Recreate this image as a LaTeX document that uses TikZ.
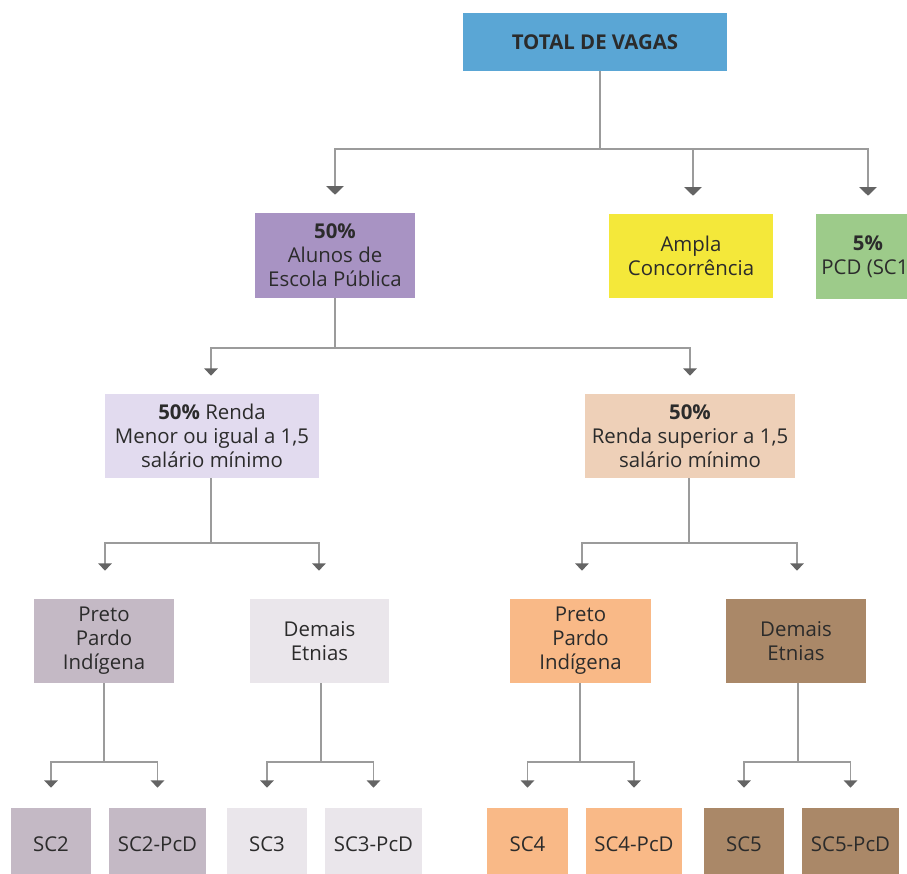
\documentclass[tikz,border=0pt]{standalone}
\usepackage{fontspec}
\setmainfont{Open Sans}
\usetikzlibrary{arrows.meta}
\definecolor{cBlue}{HTML}{5AA6D5}
\definecolor{cPurple}{HTML}{A893C3}
\definecolor{cYellow}{HTML}{F4E83A}
\definecolor{cGreen}{HTML}{9DCB8A}
\definecolor{cLav}{HTML}{E2DBEF}
\definecolor{cPeach}{HTML}{EED0B8}
\definecolor{cMauve}{HTML}{C4B9C5}
\definecolor{cLight}{HTML}{EAE6EB}
\definecolor{cOrange}{HTML}{F9B987}
\definecolor{cBrown}{HTML}{AA8868}
\definecolor{cText}{HTML}{2B2B2B}
\definecolor{cLine}{HTML}{9B9B9B}
\definecolor{cTip}{HTML}{646464}
\begin{document}
\begin{tikzpicture}[x=0.75pt,y=-0.75pt,
  box/.style 2 args={rectangle, inner sep=0pt, align=center, text=cText,
    font=\fontsize{15.3}{18}\selectfont, minimum width={#1*0.75pt}, minimum height={#2*0.75pt}},
  ln/.style={draw=cLine, line width=1.1pt},
  arrbig/.style={ln, -{Triangle[width=13pt,length=6.5pt,color=cTip]}},
  arr/.style={ln, -{Triangle[width=10pt,length=5.5pt,color=cTip]}},
]
\useasboundingbox (0,0) rectangle (907,874);
\clip (0,0) rectangle (907,874);
\fill[white] (0,0) rectangle (907,874);

% level 0
\node[box={264}{58}, fill=cBlue] (total) at (595,42) {\textbf{TOTAL DE VAGAS}};
% level 1
\node[box={160}{85}, fill=cPurple] (alunos) at (335,255.5) {\textbf{50\%}\\Alunos de\\Escola Pública};
\node[box={164}{84}, fill=cYellow] (ampla) at (691,256) {Ampla\\Concorrência};
\node[box={104}{85}, fill=cGreen] (pcd) at (868,256.5) {\textbf{5\%}\\PCD (SC1)};
% level 2
\node[box={214}{84}, fill=cLav] (rmenor) at (212,436) {\textbf{50\%} Renda\\Menor ou igual a 1,5\\salário mínimo};
\node[box={210}{84}, fill=cPeach] (rsup) at (690,436) {\textbf{50\%}\\Renda superior a 1,5\\salário mínimo};
% level 3
\node[box={140}{84}, fill=cMauve] (ppi1) at (104,641) {Preto\\Pardo\\Indígena};
\node[box={139}{84}, fill=cLight] (de1) at (319.5,641) {Demais\\Etnias};
\node[box={141}{84}, fill=cOrange] (ppi2) at (580.5,641) {Preto\\Pardo\\Indígena};
\node[box={140}{84}, fill=cBrown] (de2) at (796,641) {Demais\\Etnias};
% level 4
\node[box={80}{72}, fill=cMauve] (sc2) at (51,844) {SC2};
\node[box={97}{72}, fill=cMauve] (sc2p) at (157.5,844) {SC2-PcD};
\node[box={80}{72}, fill=cLight] (sc3) at (267,844) {SC3};
\node[box={97}{72}, fill=cLight] (sc3p) at (373.5,844) {SC3-PcD};
\node[box={81}{72}, fill=cOrange] (sc4) at (527.5,844) {SC4};
\node[box={96}{72}, fill=cOrange] (sc4p) at (634,844) {SC4-PcD};
\node[box={80}{72}, fill=cBrown] (sc5) at (744,844) {SC5};
\node[box={97}{72}, fill=cBrown] (sc5p) at (850.5,844) {SC5-PcD};

% junctions
\coordinate (j1) at (600,149);
\coordinate (j2) at (335,348);
\coordinate (j3a) at (211,543);
\coordinate (j3b) at (689,543);
\coordinate (j4a) at (104,762);
\coordinate (j4b) at (321,762);
\coordinate (j4c) at (580,762);
\coordinate (j4d) at (798,762);

% connectors level 0 -> 1
\draw[ln] (j1 |- total.south) -- (j1);
\draw[arrbig, shorten >=13.5pt] (j1) -| (alunos.north);
\draw[arrbig, shorten >=13.5pt] (j1) -| ([xshift=1.5pt]ampla.north);
\draw[arrbig, shorten >=13.5pt] (j1) -| (pcd.north);
% level 1 -> 2
\draw[ln] (alunos.south) -- (j2);
\draw[arr, shorten >=13.5pt] (j2) -| ([xshift=-0.75pt]rmenor.north);
\draw[arr, shorten >=13.5pt] (j2) -| (rsup.north);
% level 2 -> 3
\draw[ln] (j3a |- rmenor.south) -- (j3a);
\draw[arr, shorten >=21pt] (j3a) -| ([xshift=0.75pt]ppi1.north);
\draw[arr, shorten >=21pt] (j3a) -| ([xshift=-0.4pt]de1.north);
\draw[ln] (j3b |- rsup.south) -- (j3b);
\draw[arr, shorten >=21pt] (j3b) -| ([xshift=1.1pt]ppi2.north);
\draw[arr, shorten >=21pt] (j3b) -| ([xshift=0.75pt]de2.north);
% level 3 -> 4
\draw[ln] (ppi1.south) -- (j4a);
\draw[arr, shorten >=15pt] (j4a) -| (sc2.north);
\draw[arr, shorten >=15pt] (j4a) -| (sc2p.north);
\draw[ln] (j4b |- de1.south) -- (j4b);
\draw[arr, shorten >=15pt] (j4b) -| (sc3.north);
\draw[arr, shorten >=15pt] (j4b) -| (sc3p.north);
\draw[ln] (j4c |- ppi2.south) -- (j4c);
\draw[arr, shorten >=15pt] (j4c) -| (sc4.north);
\draw[arr, shorten >=15pt] (j4c) -| (sc4p.north);
\draw[ln] (j4d |- de2.south) -- (j4d);
\draw[arr, shorten >=15pt] (j4d) -| (sc5.north);
\draw[arr, shorten >=15pt] (j4d) -| (sc5p.north);
\end{tikzpicture}
\end{document}
